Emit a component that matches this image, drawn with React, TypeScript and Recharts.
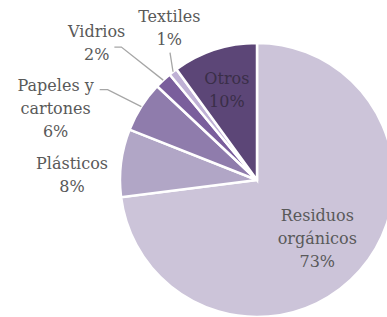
import React from "react";
import { PieChart, Pie, Cell } from "recharts";

const categories = ["Residuos orgánicos", "Plásticos", "Papeles y cartones", "Vidrios", "Textiles", "Otros"];
const values = [73, 8, 6, 2, 1, 10];
const labelLines: string[][] = [
  ["Residuos", "orgánicos", "73%"],
  ["Plásticos", "8%"],
  ["Papeles y", "cartones", "6%"],
  ["Vidrios", "2%"],
  ["Textiles", "1%"],
  ["Otros", "10%"],
];
const colors = ["#CCC4D9", "#B1A6C6", "#8F7CAC", "#7A5E9C", "#BFB1D5", "#5C4677"];

// label layout: text block center offset (relative to pie center, in units of radius),
// optional leader line elbow (in units of radius) and horizontal tail length (px)
const layout: { tx: number; ty: number; elbow?: [number, number]; tail?: number; color: string }[] = [
  { tx: 0.44, ty: 0.43, color: "#595959" },
  { tx: -1.35, ty: -0.04, color: "#595959" },
  { tx: -1.47, ty: -0.52, elbow: [-1.09, -0.66], tail: 8, color: "#595959" },
  { tx: -1.17, ty: -1.0, elbow: [-0.99, -0.97], tail: 7, color: "#595959" },
  { tx: -0.64, ty: -1.11, elbow: [-0.635, -0.93], color: "#595959" },
  { tx: -0.22, ty: -0.66, color: "#3A2E48" },
];

const data = categories.map((name, i) => ({ name, value: values[i] }));

const RAD = Math.PI / 180;
const LINE_H = 23;

const renderLabel = (props: any) => {
  const { cx, cy, midAngle, outerRadius, index } = props;
  const cfg = layout[index];
  const lines = labelLines[index];
  const R = outerRadius;
  const x = cx + cfg.tx * R;
  const y = cy + cfg.ty * R;
  const startY = y - ((lines.length - 1) * LINE_H) / 2;
  const ex = cx + R * Math.cos(-midAngle * RAD);
  const ey = cy + R * Math.sin(-midAngle * RAD);
  let path: React.ReactNode = null;
  if (cfg.elbow) {
    const bx = cx + cfg.elbow[0] * R;
    const by = cy + cfg.elbow[1] * R;
    const pts = cfg.tail ? `${ex},${ey} ${bx},${by} ${bx - cfg.tail},${by}` : `${ex},${ey} ${bx},${by}`;
    path = <polyline points={pts} fill="none" stroke="#A6A6A6" strokeWidth={1.3} />;
  }
  return (
    <g key={`lbl-${index}`} className="pie-lbl">
      {path}
      {lines.map((l, i) => (
        <text
          key={i}
          x={x}
          y={startY + i * LINE_H}
          textAnchor="middle"
          dominantBaseline="central"
          fill={cfg.color}
          fontFamily="DejaVu Serif"
          fontSize={16}
        >
          {l}
        </text>
      ))}
    </g>
  );
};

export default function App() {
  return (
    <div style={{ position: "absolute", left: 0, top: 0, width: 387, height: 317, background: "#fff" }}>
      <style>{`.pie-lbl text { font-family: "DejaVu Serif", serif !important; }`}</style>
      <PieChart width={387} height={317} margin={{ top: 0, right: 0, bottom: 0, left: 0 }}>
        <Pie
          data={data}
          dataKey="value"
          nameKey="name"
          cx={257}
          cy={180}
          outerRadius={137}
          startAngle={90}
          endAngle={-270}
          stroke="#FFFFFF"
          strokeWidth={2.5}
          label={renderLabel}
          labelLine={false}
          isAnimationActive={false}
        >
          {data.map((d, i) => (
            <Cell key={d.name} fill={colors[i]} />
          ))}
        </Pie>
      </PieChart>
    </div>
  );
}
